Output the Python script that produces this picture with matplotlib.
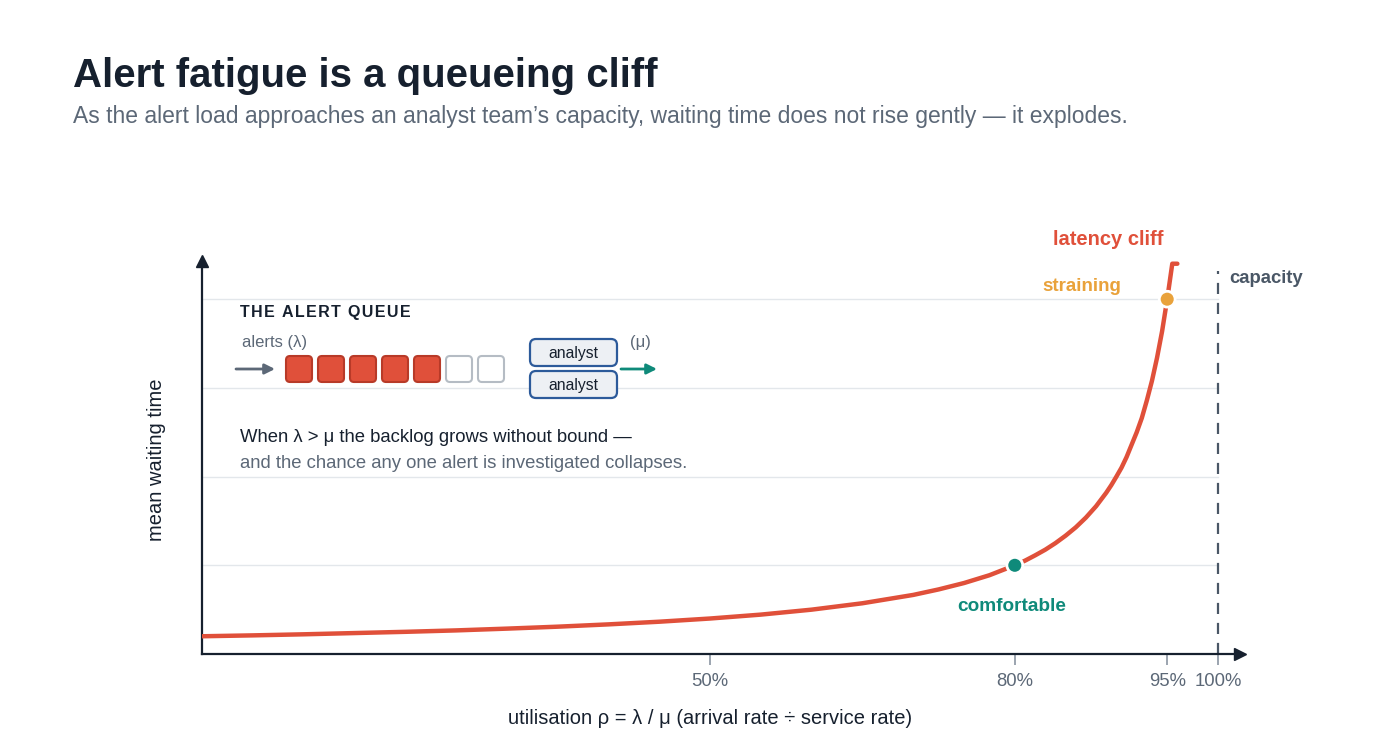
import numpy as np
import matplotlib
matplotlib.use("Agg")
import matplotlib.pyplot as plt
from matplotlib.patches import FancyBboxPatch

plt.rcParams['font.family'] = ['Liberation Sans', 'DejaVu Sans']

# utilisation vs mean waiting time
rho = [0.00, 0.05, 0.10, 0.15, 0.20, 0.25, 0.30, 0.35, 0.40, 0.45, 0.50,
       0.55, 0.60, 0.65, 0.70, 0.725, 0.75, 0.775, 0.80, 0.81, 0.82, 0.83,
       0.84, 0.85, 0.86, 0.87, 0.88, 0.89, 0.895, 0.90, 0.905, 0.91, 0.915,
       0.92, 0.925, 0.93, 0.935, 0.94, 0.945, 0.95, 0.955, 0.96]
wait = [1.00, 1.05, 1.11, 1.18, 1.25, 1.33, 1.43, 1.54, 1.67, 1.82, 2.00,
        2.22, 2.50, 2.86, 3.33, 3.64, 4.00, 4.44, 5.00, 5.26, 5.56, 5.88,
        6.25, 6.67, 7.14, 7.69, 8.33, 9.09, 9.52, 10.0, 10.5, 11.1, 11.8,
        12.5, 13.3, 14.3, 15.4, 16.7, 18.2, 20.0, 22.0, 22.0]

tick_pos = [0.50, 0.80, 0.95, 1.00]
tick_labels = ["50%", "80%", "95%", "100%"]
grid_levels = [5, 10, 15, 20]

marks_rho = [0.80, 0.95]
marks_wait = [5.0, 20.0]
marks_col = ["#0f8a7a", "#e9a23b"]

queue_filled = 5
queue_empty = 2

RED = "#e0503a"
TEAL = "#0f8a7a"
ORANGE = "#e9a23b"
NAVY = "#16202e"
GREY = "#5c6877"

W, H = 1400, 754
fig = plt.figure(figsize=(14, 7.54), dpi=100)

ax = fig.add_axes([202 / W, 100 / H, 1038 / W, 393 / H])
ax.set_xlim(0, 1038 / 1016)
ax.set_ylim(0, 393 / 17.74)
ax.patch.set_alpha(0)
for s in ["top", "right"]:
    ax.spines[s].set_visible(False)
for s in ["left", "bottom"]:
    ax.spines[s].set_color(NAVY)
    ax.spines[s].set_linewidth(1.6)
ax.plot(1, 0, ">", color=NAVY, ms=9, transform=ax.transAxes, clip_on=False)
ax.plot(0, 1, "^", color=NAVY, ms=9, transform=ax.transAxes, clip_on=False)

for g in grid_levels:
    ax.plot([0, 1.0], [g, g], color="#e3e7eb", lw=1.0, zorder=1)

ax.axvline(1.0, ymin=0, ymax=21.6 / (393 / 17.74), color="#4a5766", lw=1.6,
           ls=(0, (5, 4)), zorder=2)

ax.plot(rho, wait, color=RED, lw=3.2, solid_capstyle="round",
        solid_joinstyle="round", zorder=3)
ax.scatter(marks_rho, marks_wait, s=130, c=marks_col, edgecolors="white",
           linewidths=2, zorder=4)

ax.set_xticks(tick_pos)
ax.set_xticklabels(tick_labels)
ax.set_yticks([])
ax.tick_params(axis="x", length=8, color="#8a95a2", width=1.2,
               labelsize=13.3, labelcolor=GREY, pad=6)
ax.set_xlabel("utilisation ρ = λ / μ (arrival rate ÷ service rate)",
              fontsize=14.5, color=NAVY)
ax.xaxis.set_label_coords((710 - 202) / 1038, -55 / 393)
ax.set_ylabel("mean waiting time", fontsize=14.5, color=NAVY)
ax.yaxis.set_label_coords(-36 / 1038, (654 - 460) / 393)

# annotations in data coordinates
ax.text(0.797, 2.65, "comfortable", color=TEAL, fontsize=13.7, weight="bold",
        ha="center", va="center")
ax.text(0.905, 20.7, "straining", color=ORANGE, fontsize=13.5, weight="bold",
        ha="right", va="center")
ax.text(0.892, 23.35, "latency cliff", color=RED, fontsize=14.5,
        weight="bold", ha="center", va="center")
ax.text(1.011, 21.15, "capacity", color="#4a5766", fontsize=13.3,
        weight="bold", ha="left", va="center")

# overlay in figure pixels for titles and queue diagram
ov = fig.add_axes([0, 0, 1, 1], zorder=5)
ov.set_xlim(0, W)
ov.set_ylim(H, 0)
ov.axis("off")
ov.patch.set_alpha(0)

ov.text(73, 76, "Alert fatigue is a queueing cliff", fontsize=29,
        weight="bold", color=NAVY, va="center", ha="left")
ov.text(73, 116, "As the alert load approaches an analyst team\u2019s capacity, "
        "waiting time does not rise gently \u2014 it explodes.",
        fontsize=16.5, color=GREY, va="center", ha="left")

ov.text(240, 313, "\u200a".join("THE ALERT QUEUE"),
        fontsize=11.5, weight="bold", color=NAVY, va="center", ha="left")
ov.text(242, 343, "alerts (λ)", fontsize=12, color=GREY, va="center")
ov.annotate("", xy=(275, 369), xytext=(236, 369),
            arrowprops=dict(arrowstyle="-|>", color=GREY, lw=2,
                            mutation_scale=15, shrinkA=0, shrinkB=0))

for i in range(queue_filled + queue_empty):
    x0 = 285 + i * 32
    filled = i < queue_filled
    ov.add_patch(FancyBboxPatch((x0 + 1, 356), 26, 26,
                                boxstyle="round,pad=0,rounding_size=4",
                                fc=RED if filled else "white",
                                ec="#b83a28" if filled else "#b5bcc4", lw=1.5))

for y0 in [339, 371]:
    ov.add_patch(FancyBboxPatch((530, y0), 87, 27,
                                boxstyle="round,pad=0,rounding_size=6",
                                fc="#edf0f4", ec="#2c5a9a", lw=1.6))
    ov.text(573.5, y0 + 14.5, "analyst", fontsize=11.3, color=NAVY,
            ha="center", va="center")
ov.text(640, 342, "(μ)", fontsize=12, color=GREY, ha="center", va="center")
ov.annotate("", xy=(657, 369), xytext=(621, 369),
            arrowprops=dict(arrowstyle="-|>", color=TEAL, lw=2,
                            mutation_scale=15, shrinkA=0, shrinkB=0))

ov.text(240, 438, "When λ > μ the backlog grows without bound \u2014",
        fontsize=13.3, color=NAVY, va="center")
ov.text(240, 463, "and the chance any one alert is investigated collapses.",
        fontsize=13.3, color=GREY, va="center")

fig.savefig("out.png", dpi=100, facecolor="white")
